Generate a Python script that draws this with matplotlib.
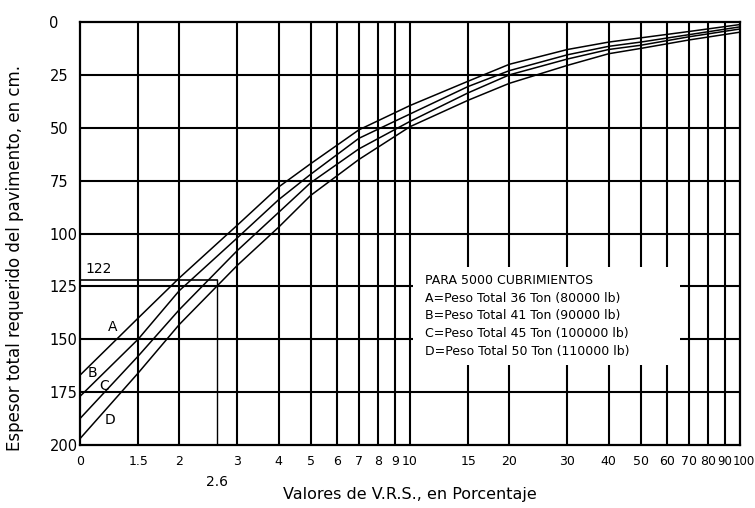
import matplotlib
matplotlib.use("Agg")
import matplotlib.pyplot as plt
from matplotlib.ticker import NullLocator, FixedLocator
from matplotlib.patches import Rectangle

plt.rcParams['font.family'] = ['DejaVu Sans']

# ---- data ----
vrs = [1, 1.5, 2, 3, 4, 5, 7, 10, 15, 20, 30, 40, 50, 70, 100]
curve_A = [167, 140, 121, 96, 78, 67, 51, 39.5, 28, 20, 13, 9.5, 7.5, 4.5, 1.2]
curve_B = [177, 150, 127, 102, 84, 72, 55, 43.5, 30.5, 23, 15.5, 11.5, 9.5, 6, 2.3]
curve_C = [187.5, 158, 136, 108, 90, 76, 60, 47, 33.5, 25, 17.5, 13, 11, 7, 3.3]
curve_D = [197, 166, 143, 115, 97, 82, 65, 49.5, 37, 29, 20.5, 15, 12.5, 8.5, 4.8]

curve_names = ['A', 'B', 'C', 'D']
x_ticks = [1, 1.5, 2, 3, 4, 5, 6, 7, 8, 9, 10, 15, 20, 30, 40, 50, 60, 70, 80, 90, 100]
x_tick_labels = ['0', '1.5', '2', '3', '4', '5', '6', '7', '8', '9', '10', '15', '20',
                 '30', '40', '50', '60', '70', '80', '90', '100']
y_ticks = [0, 25, 50, 75, 100, 125, 150, 175, 200]
y_tick_labels = [str(v) for v in y_ticks]

design_vrs = 2.6
design_thickness = 122

legend_lines = ['PARA 5000 CUBRIMIENTOS',
                'A=Peso Total 36 Ton (80000 lb)',
                'B=Peso Total 41 Ton (90000 lb)',
                'C=Peso Total 45 Ton (100000 lb)',
                'D=Peso Total 50 Ton (110000 lb)']

# ---- figure ----
W, H = 755, 508
fig = plt.figure(figsize=(W / 100, H / 100), dpi=100)
ax = fig.add_axes([80 / W, 1 - 445 / H, 660 / W, 423 / H])

ax.set_xscale('log')
ax.set_xlim(1, 100)
ax.set_ylim(200, 0)

# the last two labels ("90", "100") are crowded; draw them as separate texts
ax.xaxis.set_major_locator(FixedLocator(x_ticks))
ax.xaxis.set_minor_locator(NullLocator())
ax.set_xticklabels(x_tick_labels[:-2] + ['', ''])
ax.set_yticks(y_ticks)
ax.set_yticklabels(y_tick_labels)
ax.tick_params(axis='both', length=0)
ax.tick_params(axis='x', pad=7, labelsize=9)
ax.tick_params(axis='y', pad=22, labelsize=10.5)
for lbl in ax.get_yticklabels():
    lbl.set_horizontalalignment('left')

xt = ax.get_xaxis_transform()
lab_y = -(7 * 100 / 72) / 423
ax.text(94.6, lab_y, x_tick_labels[-2], transform=xt, fontsize=8.5, ha='right', va='top')
ax.text(0.9894, lab_y, x_tick_labels[-1], transform=ax.transAxes, fontsize=8.5,
        ha='left', va='top', clip_on=False)

for s in ax.spines.values():
    s.set_linewidth(1.6)
    s.set_color('black')

# grid
for xv in x_ticks[1:-1]:
    ax.axvline(xv, color='black', lw=1.5, zorder=1)
for yv in y_ticks[1:-1]:
    ax.axhline(yv, color='black', lw=1.5, zorder=1)

# white block behind the legend text
ax.add_patch(Rectangle((10.2, 116), 65.8 - 10.2, 162 - 116, facecolor='white',
                       edgecolor='none', zorder=1.5))

# design lines
ax.plot([1, design_vrs], [design_thickness, design_thickness], color='black', lw=1.2, zorder=2)
ax.plot([design_vrs, design_vrs], [design_thickness, 200], color='black', lw=1.0, zorder=2)
ax.text(1.04, 117, str(design_thickness), fontsize=10, ha='left', va='center')
ax.text(design_vrs, -0.088, '2.6', transform=xt, fontsize=10, ha='center', va='center')

# curves
for ys in (curve_A, curve_B, curve_C, curve_D):
    ax.plot(vrs, ys, color='black', lw=1.1, zorder=3)

label_pos = {'A': (1.26, 144), 'B': (1.09, 166), 'C': (1.18, 172), 'D': (1.23, 188)}
for n in curve_names:
    ax.text(*label_pos[n], n, fontsize=10, ha='center', va='center')

# legend text
for i, t in enumerate(legend_lines):
    ax.text(11.1, 122 + 8.5 * i, t, fontsize=9, ha='left', va='center', zorder=4)

fig.text(410 / W, 1 - 494 / H, 'Valores de V.R.S., en Porcentaje', fontsize=11.5,
         ha='center', va='center')
fig.text(15 / W, 1 - 258 / H, 'Espesor total requerido del pavimento, en cm.', fontsize=12,
         ha='center', va='center', rotation=90)

fig.savefig('out.png', dpi=100)
